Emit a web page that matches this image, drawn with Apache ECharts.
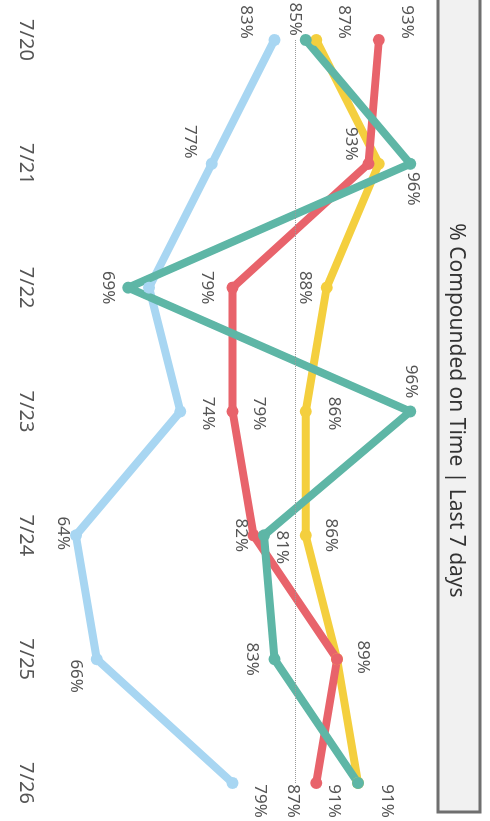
<!DOCTYPE html>
<html>
<head>
<meta charset="utf-8">
<title>% Compounded on Time | Last 7 days</title>
<script src="https://cdn.jsdelivr.net/npm/echarts@6/dist/echarts.min.js"></script>
<style>
  html, body { margin: 0; padding: 0; background: #ffffff; overflow: hidden; }
  body { width: 490px; height: 821px; position: relative; }
  /* The chart is laid out landscape and turned a quarter clockwise to fit the portrait page */
  #chart {
    position: absolute; left: 0; top: 0;
    width: 821px; height: 490px;
    transform-origin: 0 0;
    transform: translate(490px, 0) rotate(90deg);
  }
</style>
</head>
<body>
<div id="chart"></div>
<script>
// Days shown along the category axis
const days = ['7/20', '7/21', '7/22', '7/23', '7/24', '7/25', '7/26'];

// Percent compounded on time, one list per series
const blueSeries   = [83, 77, 71, 74, 64, 66, 79];
const redSeries    = [93, 92, 79, 79, 81, 89, 87];
const yellowSeries = [87, 93, 88, 86, 86, 89, 91];
const tealSeries   = [86, 96, 69, 96, 82, 83, 91];

// Target reference line
const targetLine = 85;

const titleText = '% Compounded on Time | Last 7 days';

// Where each point's value label sits, as [dx, dy] from the point (null = no label)
const blueLabelOffsets   = [[-18, 29], [-22, 22], null, [2, -27], [-2, 13], [17, 21], [18, -27]];
const redLabelOffsets    = [[-18, -28], null, [0, 26], [2, -26], [12, -28], [-2, -26], [18, 23]];
const yellowLabelOffsets = [[-18, -28], [-20, 28], [0, 22], [2, -28], [0, -25], null, [18, 24]];
const tealLabelOffsets   = [null, [25, -3], [0, 20], [-30, -1], [0, 23], [0, 23], [18, -29]];

const FONT = '"Noto Sans", "Open Sans", sans-serif';
const labelStyle = { fontFamily: FONT, fontSize: 17, color: '#555555' };

function points(values, offsets) {
  return values.map((v, i) => ({
    value: v,
    label: offsets[i]
      ? { show: true, position: 'inside', align: 'center', verticalAlign: 'middle', formatter: '{c}%', ...labelStyle }
      : { show: false }
  }));
}

function lineSeries(name, values, offsets, color, extra) {
  return Object.assign({
    name: name,
    type: 'line',
    data: points(values, offsets),
    symbol: 'circle',
    symbolSize: 12,
    lineStyle: { width: 8, color: color, join: 'round', cap: 'round' },
    itemStyle: { color: color },
    emphasis: { disabled: true },
    // shift each value label to its own spot beside the point
    labelLayout: function (params) {
      const off = offsets[params.dataIndex];
      return off ? { dx: off[0], dy: off[1], hideOverlap: false } : {};
    }
  }, extra || {});
}

const chart = echarts.init(document.getElementById('chart'), null, { renderer: 'canvas' });

chart.setOption({
  animation: false,
  backgroundColor: '#ffffff',
  title: {
    text: titleText,
    left: 'center',
    top: 19,
    textStyle: { fontFamily: FONT, fontSize: 21, fontWeight: 'normal', color: '#333333' }
  },
  graphic: [{
    type: 'rect',
    z: -1,
    shape: { x: -6, y: 10, width: 818, height: 42 },
    style: { fill: '#f1f1f1', stroke: '#6f6f6f', lineWidth: 3 }
  }],
  grid: { left: 40, right: 38, top: 38, bottom: 55 },
  xAxis: {
    type: 'category',
    data: days,
    boundaryGap: false,
    axisLine: { show: false },
    axisTick: { show: false },
    axisLabel: { fontFamily: FONT, fontSize: 20, color: '#555555', margin: 19 },
    splitLine: { show: false }
  },
  yAxis: {
    type: 'value',
    min: 62,
    max: 100,
    show: false,
    splitLine: { show: false }
  },
  series: [
    lineSeries('Blue', blueSeries, blueLabelOffsets, '#a8d6f2', {
      markLine: {
        silent: true,
        symbol: 'none',
        lineStyle: { type: 'dotted', color: '#9a9a9a', width: 1 },
        label: { position: 'start', distance: 4, formatter: targetLine + '%', ...labelStyle },
        data: [{ yAxis: targetLine }]
      }
    }),
    lineSeries('Yellow', yellowSeries, yellowLabelOffsets, '#f4cf3e'),
    lineSeries('Red', redSeries, redLabelOffsets, '#e8636b'),
    lineSeries('Teal', tealSeries, tealLabelOffsets, '#5eb6a6')
  ]
});
</script>
</body>
</html>
